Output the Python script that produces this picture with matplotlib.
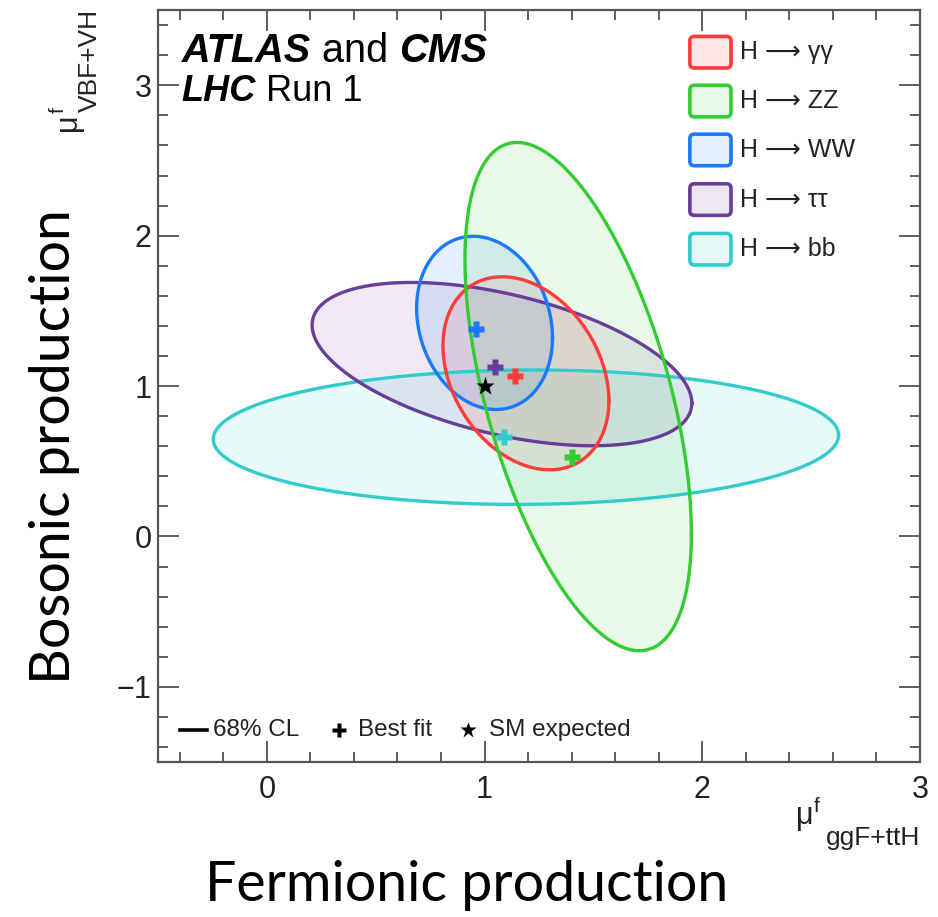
import numpy as np
import matplotlib
matplotlib.use("Agg")
import matplotlib.pyplot as plt
from matplotlib.patches import FancyBboxPatch
from matplotlib.ticker import MultipleLocator

plt.rcParams['font.family'] = ['Liberation Sans', 'DejaVu Sans']

# 68% CL contours per decay channel: centre, half-extent in x / y, correlation
channels = ['H ⟶ γγ', 'H ⟶ ZZ', 'H ⟶ WW', 'H ⟶ ττ', 'H ⟶ bb']
colors = ['#ff3b3b', '#33cc33', '#1a7aff', '#6a3d9a', '#33cccc']
cx = [1.19, 1.43, 1.00, 1.08, 1.19]
cy = [1.085, 0.93, 1.42, 1.146, 0.66]
sx = [0.381, 0.52, 0.312, 0.872, 1.436]
sy = [0.642, 1.69, 0.576, 0.543, 0.447]
rho = [-0.285, -0.54, -0.17, -0.477, 0.03]

# best-fit points
fit_x = [1.14, 1.40, 0.96, 1.05, 1.09]
fit_y = [1.07, 0.53, 1.38, 1.13, 0.66]

# Standard Model expectation
sm_x, sm_y = 1.0, 1.0

fig = plt.figure(figsize=(9.38, 9.17), dpi=100)
ax = fig.add_axes([0.1684, 0.169, 0.8124, 0.820])

t = np.linspace(0, 2 * np.pi, 400)
draw_order = [4, 3, 2, 0, 1]
for i in draw_order:
    x = cx[i] + sx[i] * np.cos(t)
    y = cy[i] + sy[i] * (rho[i] * np.cos(t) + np.sqrt(1 - rho[i] ** 2) * np.sin(t))
    ax.fill(x, y, facecolor=colors[i], alpha=0.11, edgecolor='none', zorder=2)
    ax.plot(x, y, color=colors[i], lw=2.4, zorder=3)

for i in range(len(channels)):
    ax.plot(fit_x[i], fit_y[i], marker='P', ms=11, color=colors[i],
            mec='none', zorder=5)
ax.plot(sm_x, sm_y, marker='*', ms=14, color='black', mec='none', zorder=6)

ax.set_xlim(-0.5, 3)
ax.set_ylim(-1.5, 3.5)
ax.xaxis.set_major_locator(MultipleLocator(1))
ax.yaxis.set_major_locator(MultipleLocator(1))
ax.xaxis.set_minor_locator(MultipleLocator(0.2))
ax.yaxis.set_minor_locator(MultipleLocator(0.2))
ax.tick_params(which='both', direction='in', top=True, right=True,
               color='#444444', width=1.2, labelsize=22, labelcolor='#222222')
ax.tick_params(which='major', length=15)
ax.tick_params(which='minor', length=7)
ax.tick_params(axis='x', pad=9)
ax.tick_params(axis='y', pad=4.5)
for s in ax.spines.values():
    s.set_color('#555555')
    s.set_linewidth(1.6)

# axis titles, built from mu, superscript and subscript pieces
tc = '#222222'
ax.text(1.0, -0.1105, 'ggF+ttH', transform=ax.transAxes, fontsize=19,
        ha='right', va='baseline', color=tc)
ax.text(0.861, -0.0826, 'μ', transform=ax.transAxes, fontsize=22,
        ha='right', va='baseline', color=tc)
ax.text(0.861, -0.0666, 'f', transform=ax.transAxes, fontsize=15,
        ha='left', va='baseline', color=tc)

ax.text(-0.080, 1.0013, 'VBF+VH', transform=ax.transAxes, fontsize=19,
        ha='right', va='baseline', rotation=90, rotation_mode='anchor', color=tc)
ax.text(-0.1076, 0.8628, 'μ', transform=ax.transAxes, fontsize=22,
        ha='right', va='baseline', rotation=90, rotation_mode='anchor', color=tc)
ax.text(-0.1234, 0.8628, 'f', transform=ax.transAxes, fontsize=15,
        ha='left', va='baseline', rotation=90, rotation_mode='anchor', color=tc)

# experiment labels
renderer = fig.canvas.get_renderer()


def text_run(x, y, pieces, size):
    for s, weight, style in pieces:
        txt = ax.text(x, y, s, transform=ax.transAxes, fontsize=size,
                      fontweight=weight, fontstyle=style, ha='left',
                      va='baseline', color='black')
        bb = txt.get_window_extent(renderer).transformed(ax.transAxes.inverted())
        x = bb.x1


text_run(0.031, 0.931, [('ATLAS', 'bold', 'italic'), (' and ', 'normal', 'normal'),
                        ('CMS', 'bold', 'italic')], 28.5)
text_run(0.031, 0.879, [('LHC', 'bold', 'italic'), (' Run 1', 'normal', 'normal')], 26)

# channel legend
row_y = [0.944, 0.879, 0.814, 0.748, 0.682]
for i, name in enumerate(channels):
    box = FancyBboxPatch((0.698, row_y[i] - 0.021), 0.054, 0.042,
                         boxstyle='round,pad=0,rounding_size=0.006',
                         transform=ax.transAxes, facecolor=colors[i],
                         edgecolor='none', alpha=0.12, zorder=7)
    ax.add_patch(box)
    edge = FancyBboxPatch((0.698, row_y[i] - 0.021), 0.054, 0.042,
                          boxstyle='round,pad=0,rounding_size=0.006',
                          transform=ax.transAxes, facecolor='none',
                          edgecolor=colors[i], lw=2.6, zorder=8)
    ax.add_patch(edge)
    ax.text(0.764, row_y[i], name, transform=ax.transAxes, fontsize=18,
            va='center', ha='left', color=tc)

# marker legend
ly = 0.043
ax.plot([0.029, 0.064], [ly, ly], transform=ax.transAxes, color='black', lw=2.6)
ax.text(0.072, ly, '68% CL', transform=ax.transAxes, fontsize=17.5,
        va='center', color=tc)
ax.plot(0.238, ly, transform=ax.transAxes, marker='P', ms=10, color='black', mec='none')
ax.text(0.262, ly, 'Best fit', transform=ax.transAxes, fontsize=17.5,
        va='center', color=tc)
ax.plot(0.407, ly, transform=ax.transAxes, marker='*', ms=12, color='black', mec='none')
ax.text(0.435, ly, 'SM expected', transform=ax.transAxes, fontsize=17.5,
        va='center', color=tc)

# plain-language axis captions
fig.text(0.498, 0.017, 'Fermionic production', fontsize=40, family='Lato',
         ha='center', va='baseline')
fig.text(0.058, 0.513, 'Bosonic production', fontsize=40, family='Lato',
         ha='center', va='center', rotation=90)

fig.savefig('out.png', dpi=100)
